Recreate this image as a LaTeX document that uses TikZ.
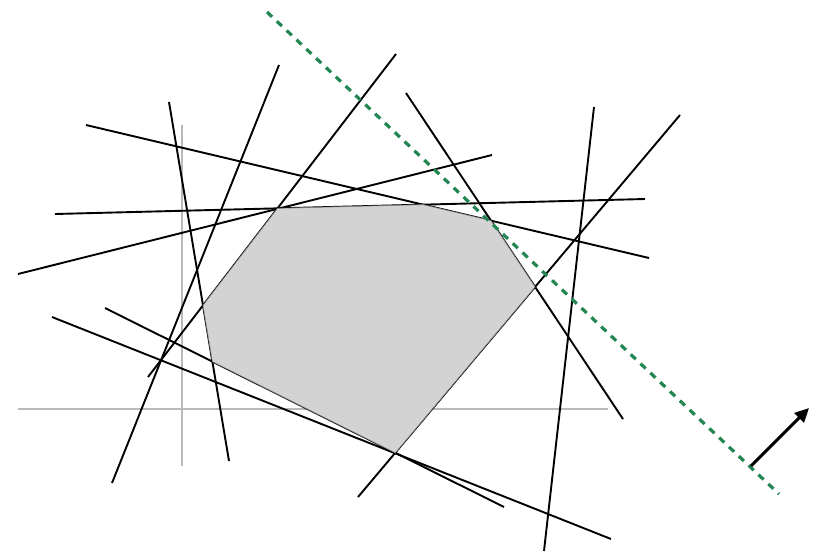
\documentclass[tikz,border=0pt]{standalone}
\usetikzlibrary{arrows.meta}
\definecolor{dashgreen}{RGB}{34,134,82}
\definecolor{regiongray}{RGB}{211,211,211}
\definecolor{axisgray}{RGB}{185,185,185}
\begin{document}
\begin{tikzpicture}[x=1pt,y=-1pt,
  cline/.style={black,line width=1.9pt},
  axisline/.style={axisgray,line width=1.4pt},
  region/.style={fill=regiongray,draw=gray,line width=0.6pt},
  objline/.style={dashgreen,line width=3.2pt,dash pattern=on 7pt off 6.5pt},
  normalarrow/.style={black,line width=3pt,-{Triangle[length=14pt,width=13pt]}}]
\useasboundingbox (0,0) rectangle (821,552);
% endpoints of constraint lines
\coordinate (A1) at (86,125);  \coordinate (A2) at (649,258);
\coordinate (B1) at (169,102); \coordinate (B2) at (229,461);
\coordinate (C1) at (279,65);  \coordinate (C2) at (112,483);
\coordinate (D1) at (396,54);  \coordinate (D2) at (148,377);
\coordinate (E1) at (55,214);  \coordinate (E2) at (645,199);
\coordinate (F1) at (18,274);  \coordinate (F2) at (492,155);
\coordinate (G1) at (406,93);  \coordinate (G2) at (623,419);
\coordinate (H1) at (594,107); \coordinate (H2) at (544,551);
\coordinate (I1) at (680,115); \coordinate (I2) at (358,497);
\coordinate (J1) at (52,317);  \coordinate (J2) at (611,539);
\coordinate (K1) at (105,308); \coordinate (K2) at (504,507);
% axes
\coordinate (VX1) at (182,125); \coordinate (VX2) at (182,466);
\coordinate (HX1) at (18,409);  \coordinate (HX2) at (608,409);
% objective line and normal
\coordinate (O1) at (267,12);   \coordinate (O2) at (779,494);
\coordinate (N1) at (751,466);  \coordinate (N2) at (809,408);
\draw[axisline] (VX1) -- (VX2);
\draw[axisline] (HX1) -- (HX2);
\foreach \l in {A,B,C,D,E,F,G,H,I,J,K}{
  \draw[cline] (\l1) -- (\l2);
}
% feasible region
\coordinate (P1) at (intersection of D1--D2 and E1--E2);
\coordinate (P2) at (intersection of E1--E2 and A1--A2);
\coordinate (P3) at (intersection of A1--A2 and G1--G2);
\coordinate (P4) at (intersection of G1--G2 and I1--I2);
\coordinate (P5) at (intersection of I1--I2 and K1--K2);
\coordinate (P6) at (intersection of K1--K2 and B1--B2);
\coordinate (P7) at (intersection of B1--B2 and D1--D2);
\draw[region] (P1) -- (P2) -- (P3) -- (P4) -- (P5) -- (P6) -- (P7) -- cycle;
\draw[objline] (O1) -- (O2);
\draw[normalarrow] (N1) -- (N2);
\end{tikzpicture}
\end{document}
